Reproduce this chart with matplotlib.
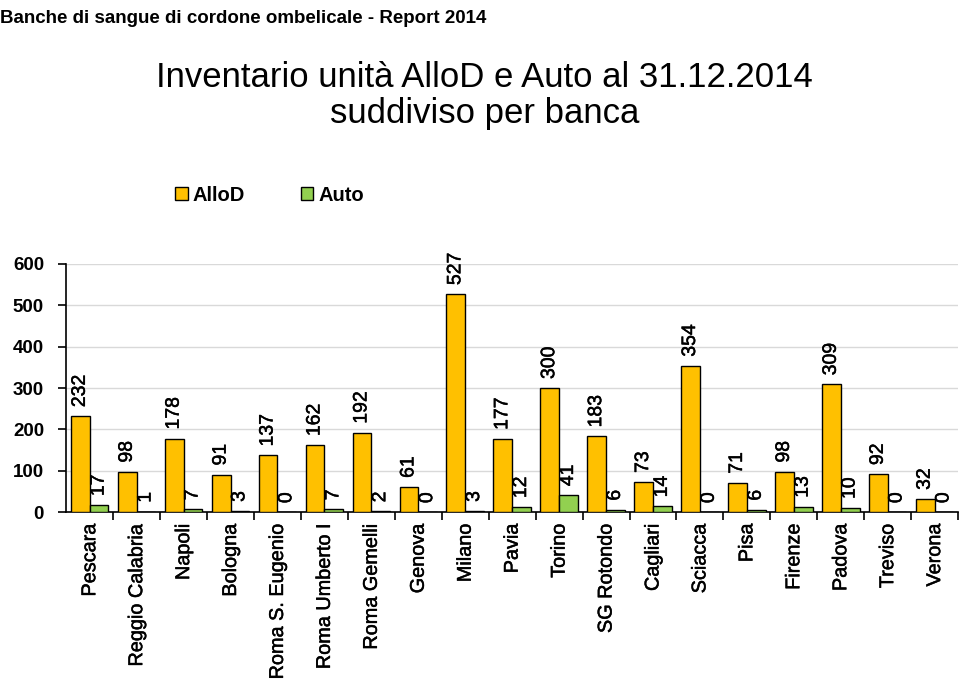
import numpy as np
import matplotlib.pyplot as plt
import matplotlib.patheffects as pe

banche = ["Pescara", "Reggio Calabria", "Napoli", "Bologna", "Roma S. Eugenio",
          "Roma Umberto I", "Roma Gemelli", "Genova", "Milano", "Pavia", "Torino",
          "SG Rotondo", "Cagliari", "Sciacca", "Pisa", "Firenze", "Padova",
          "Treviso", "Verona"]
allod = [232, 98, 178, 91, 137, 162, 192, 61, 527, 177, 300, 183, 73, 354, 71, 98, 309, 92, 32]
auto = [17, 1, 7, 3, 0, 7, 2, 0, 3, 12, 41, 6, 14, 0, 6, 13, 10, 0, 0]

plt.rcParams['font.family'] = ['Liberation Sans', 'DejaVu Sans']
thick = [pe.withStroke(linewidth=0.35, foreground="black")]

fig = plt.figure(figsize=(9.6, 6.82), dpi=100)
ax = fig.add_axes([0.069, 0.249, 0.929, 0.364])

x = np.arange(len(banche))
w = 0.4
b1 = ax.bar(x - w / 2, allod, w, color="#FFC000", edgecolor="black", linewidth=1, label="AlloD", zorder=3)
b2 = ax.bar(x + w / 2, auto, w, color="#92D050", edgecolor="black", linewidth=1, label="Auto", zorder=3)

for bars, vals in ((b1, allod), (b2, auto)):
    for r, v in zip(bars, vals):
        ax.annotate(str(v), (r.get_x() + r.get_width() / 2, v), xytext=(0, 6.5),
                    textcoords="offset points", rotation=90, ha="center", va="bottom",
                    fontsize=14, path_effects=thick)

ax.set_xlim(-0.5, len(banche) - 0.5)
ax.set_ylim(0, 600)
ax.set_yticks(range(0, 601, 100))
ax.yaxis.grid(True, color="#d9d9d9", linewidth=1, zorder=0)
ax.set_axisbelow(True)
for s in ("top", "right"):
    ax.spines[s].set_visible(False)
ax.spines["left"].set_linewidth(1.2)
ax.spines["bottom"].set_linewidth(1.2)

ax.set_xticks(x)
ax.set_xticklabels(banche, rotation=90, fontsize=14.3, va="top", ha="center")
for t in ax.get_xticklabels():
    t.set_path_effects(thick)
ax.tick_params(axis="x", length=0, pad=8)
ax.set_xticks(np.arange(len(banche)) + 0.5, minor=True)
ax.tick_params(axis="x", which="minor", length=6, width=1.2, direction="out")
ax.tick_params(axis="y", length=6, width=1.2, labelsize=13.5, pad=10)
for t in ax.get_yticklabels():
    t.set_fontweight("bold")

fig.text(0.0, 0.985, "Banche di sangue di cordone ombelicale - Report 2014",
         fontsize=13.5, fontweight="bold", ha="left", va="top")
fig.text(0.505, 0.86, "Inventario unità AlloD e Auto al 31.12.2014\nsuddiviso per banca",
         fontsize=25, ha="center", va="center", linespacing=1.1)

fig.legend(handles=[b1, b2], loc="center", bbox_to_anchor=(0.281, 0.714), ncol=2,
           frameon=False, prop={"size": 14.5, "weight": "bold"}, handlelength=0.6,
           handleheight=0.6, handletextpad=0.25, columnspacing=2.8)

fig.savefig("out.png", dpi=100)
